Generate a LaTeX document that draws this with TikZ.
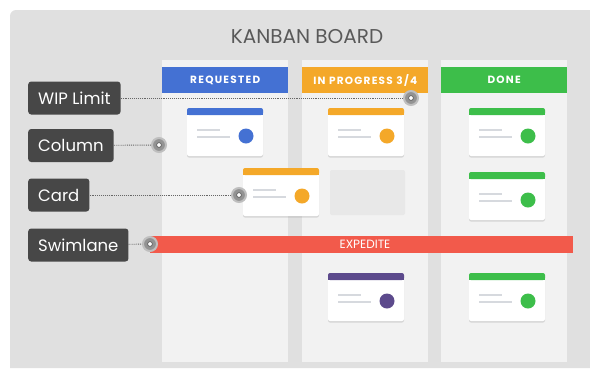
\documentclass[tikz,border=0pt]{standalone}
\usepackage{fontspec}
\setmainfont{Poppins}
\usetikzlibrary{shadows}

\definecolor{kboard}{HTML}{E0E0E0}
\definecolor{kcolumn}{HTML}{F2F2F2}
\definecolor{kblue}{HTML}{4471D3}
\definecolor{korange}{HTML}{F4A829}
\definecolor{kgreen}{HTML}{3DBE4A}
\definecolor{kred}{HTML}{F25A4B}
\definecolor{kpurple}{HTML}{5C4A8C}
\definecolor{klabel}{HTML}{474747}
\definecolor{kline}{HTML}{D6D9DE}

\tikzset{
  header/.style={minimum width=126pt, minimum height=26pt, inner sep=0pt, text=white,
    font=\fontsize{10.5}{11}\selectfont\bfseries\addfontfeatures{LetterSpace=12}},
  tag/.style={anchor=west, fill=klabel, rounded corners=3pt, text=white, minimum height=33pt,
    inner xsep=10pt, font=\fontsize{16.5}{18}\selectfont},
  marker/.style={circle, fill=gray!85, draw=gray!50, line width=2pt, minimum size=14pt, inner sep=0pt,
    path picture={\fill[white] (path picture bounding box.center) circle (2.4pt);
                  \draw[black!70, line width=0.6pt] (path picture bounding box.center) circle (2.4pt);}},
  pointer/.style={black!60, densely dotted, line width=0.9pt}
}

\begin{document}
\begin{tikzpicture}[x=1pt, y=-1pt]
\useasboundingbox (0,0) rectangle (590,368);

% board
\fill[kboard] (10,368) [rounded corners=6pt] -- (10,10) [sharp corners] -- (590,10) -- (590,368) -- cycle;
\node[font=\fontsize{20}{22}\selectfont, text=black!65] (title) at (307,37) {KANBAN BOARD};

% columns
\foreach \x in {162,302,441}
  \fill[kcolumn] (\x,60) rectangle ++(126,302);
\node[header, fill=kblue, anchor=north west] (requested) at (162,67) {REQUESTED};
\node[header, fill=korange, anchor=north west] (progress) at (302,67) {IN PROGRESS 3/4};
\node[header, fill=kgreen, anchor=north west] (done) at (441,67) {DONE};

% empty slot left by the moving card
\fill[black!9, rounded corners=2pt] (330,170) rectangle (405,215);

% cards
\foreach \x/\y/\c in {187/108/kblue, 328/108/korange, 469/108/kgreen, 469/172/kgreen,
                      243/168/korange, 328/273/kpurple, 469/273/kgreen} {
  \fill[white, rounded corners=2pt, drop shadow={opacity=0.25, shadow xshift=0pt, shadow yshift=-1.5pt}]
    (\x,\y) rectangle ++(76,48);
  \fill[\c, rounded corners=2pt] (\x,\y) rectangle ++(76,7);
  \fill[\c] (\x,\y+4) rectangle ++(76,3);
  \fill[\c] (\x+59,\y+28) circle (7.5);
  \draw[kline, line width=1.2pt] (\x+10,\y+22) -- ++(23,0);
  \draw[kline, line width=1.2pt] (\x+10,\y+29) -- ++(33,0);
}

% swimlane
\fill[kred] (150,236) rectangle (573,253);
\node[text=white, font=\fontsize{12}{13}\selectfont] (expedite) at (365,244.5) {EXPEDITE};

% callouts
\node[tag] (wip) at (28,98) {WIP Limit};
\node[tag] (column) at (28,145.5) {Column};
\node[tag] (card) at (28,195) {Card};
\node[tag] (swimlane) at (28,245) {Swimlane};

\node[marker] (wipmark) at (411,98) {};
\node[marker] (columnmark) at (159,145) {};
\node[marker] (cardmark) at (239,195) {};
\node[marker] (swimmark) at (150,244) {};

\draw[pointer] (wip) -- (wipmark);
\draw[pointer] (column) -- (columnmark);
\draw[pointer] (card) -- (cardmark);
\draw[pointer] (swimlane) -- (swimmark);
\end{tikzpicture}
\end{document}
